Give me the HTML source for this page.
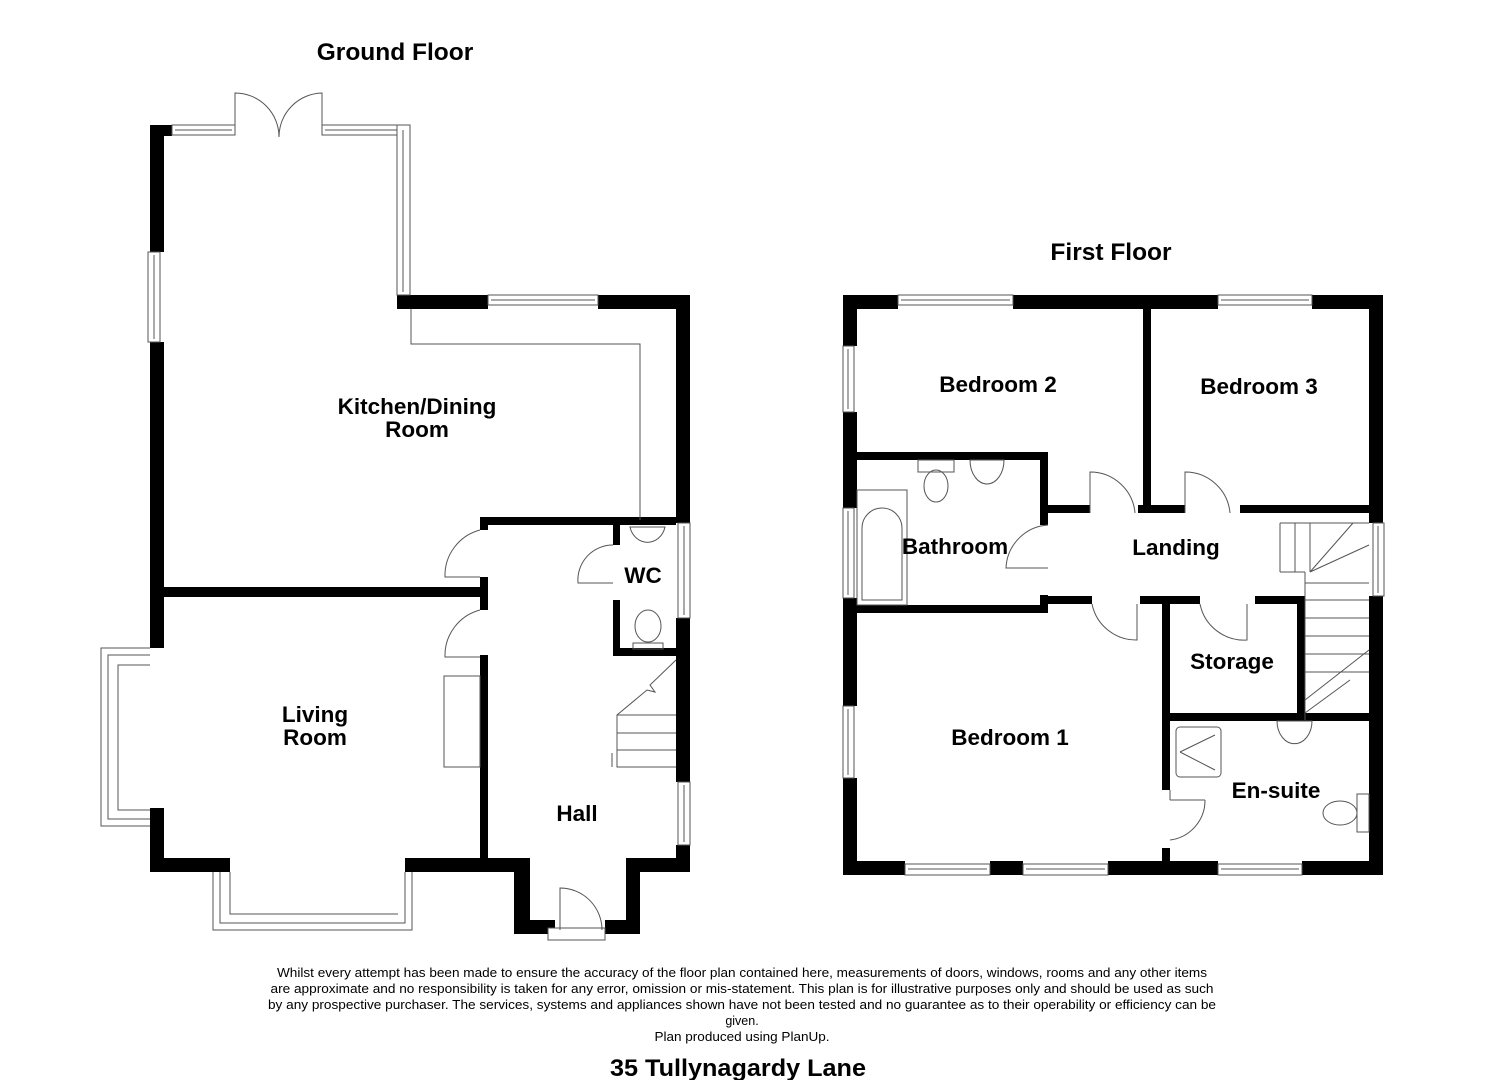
<!DOCTYPE html>
<html><head><meta charset="utf-8"><style>
html,body{margin:0;padding:0;background:#fff;}
svg{display:block}
text{font-family:"Liberation Sans",Arial,sans-serif;}
.l{font-weight:bold;font-size:22.5px;text-anchor:middle;fill:#000}
.h{font-weight:bold;font-size:24.5px;text-anchor:middle;fill:#000}
.d{font-size:12.5px;text-anchor:middle;fill:#000}
</style></head><body>
<svg width="1485" height="1080" viewBox="0 0 1485 1080" xmlns="http://www.w3.org/2000/svg">
<g fill="#000">
<rect x="150" y="125" width="14" height="127"/>
<rect x="150" y="125" width="22" height="11"/>
<rect x="150" y="342" width="14" height="306"/>
<rect x="150" y="808" width="14" height="64"/>
<rect x="150" y="858" width="80" height="14"/>
<rect x="397" y="295" width="91" height="14"/>
<rect x="598" y="295" width="92" height="14"/>
<rect x="676" y="295" width="14" height="228"/>
<rect x="676" y="618" width="14" height="164"/>
<rect x="676" y="845" width="14" height="27"/>
<rect x="405" y="858" width="125" height="14"/>
<rect x="514" y="858" width="16" height="76"/>
<rect x="514" y="920" width="41" height="14"/>
<rect x="605" y="920" width="35" height="14"/>
<rect x="626" y="858" width="14" height="76"/>
<rect x="626" y="858" width="64" height="14"/>
<rect x="480" y="517" width="196" height="8"/>
<rect x="480" y="517" width="8" height="13"/>
<rect x="480" y="577" width="8" height="33"/>
<rect x="164" y="587" width="324" height="10"/>
<rect x="480" y="655" width="8" height="205"/>
<rect x="613" y="525" width="7" height="20"/>
<rect x="613" y="600" width="7" height="56"/>
<rect x="613" y="648" width="63" height="8"/>
<rect x="843" y="295" width="55" height="14"/>
<rect x="1013" y="295" width="205" height="14"/>
<rect x="1312" y="295" width="71" height="14"/>
<rect x="843" y="295" width="14" height="51"/>
<rect x="843" y="412" width="14" height="96"/>
<rect x="843" y="598" width="14" height="108"/>
<rect x="843" y="778" width="14" height="97"/>
<rect x="843" y="861" width="62" height="14"/>
<rect x="990" y="861" width="33" height="14"/>
<rect x="1108" y="861" width="110" height="14"/>
<rect x="1302" y="861" width="81" height="14"/>
<rect x="1369" y="295" width="14" height="228"/>
<rect x="1369" y="596" width="14" height="279"/>
<rect x="1143" y="309" width="8" height="204"/>
<rect x="1151" y="505" width="34" height="8"/>
<rect x="1240" y="505" width="129" height="8"/>
<rect x="857" y="452" width="191" height="8"/>
<rect x="1040" y="452" width="8" height="73"/>
<rect x="1040" y="595" width="8" height="18"/>
<rect x="857" y="605" width="191" height="8"/>
<rect x="1040" y="505" width="50" height="8"/>
<rect x="1138" y="505" width="13" height="8"/>
<rect x="1048" y="596" width="44" height="8"/>
<rect x="1140" y="596" width="60" height="8"/>
<rect x="1255" y="596" width="50" height="8"/>
<rect x="1297" y="596" width="8" height="124"/>
<rect x="1162" y="600" width="8" height="190"/>
<rect x="1162" y="848" width="8" height="20"/>
<rect x="1162" y="713" width="207" height="8"/>
</g>
<g fill="#fff" stroke="#555" stroke-width="1">
<rect x="172" y="125" width="63" height="10"/><line x1="175" y1="130" x2="232" y2="130"/>
<rect x="322" y="125" width="85" height="10"/><line x1="325" y1="130" x2="404" y2="130"/>
<rect x="397" y="125" width="13" height="170"/><line x1="403" y1="130" x2="403" y2="292"/>
<rect x="148" y="252" width="12" height="90"/><line x1="154" y1="255" x2="154" y2="339"/>
<rect x="488" y="295" width="110" height="10"/><line x1="491" y1="300" x2="595" y2="300"/>
<rect x="678" y="523" width="12" height="95"/><line x1="684" y1="526" x2="684" y2="615"/>
<rect x="678" y="782" width="12" height="63"/><line x1="684" y1="785" x2="684" y2="842"/>
<rect x="548" y="928" width="57" height="12"/>
<rect x="898" y="295" width="115" height="10"/><line x1="901" y1="300" x2="1010" y2="300"/>
<rect x="1218" y="295" width="94" height="10"/><line x1="1221" y1="300" x2="1309" y2="300"/>
<rect x="843" y="346" width="11" height="66"/><line x1="848" y1="349" x2="848" y2="409"/>
<rect x="843" y="508" width="11" height="90"/><line x1="848" y1="511" x2="848" y2="595"/>
<rect x="843" y="706" width="11" height="72"/><line x1="848" y1="709" x2="848" y2="775"/>
<rect x="1373" y="523" width="11" height="73"/><line x1="1378" y1="526" x2="1378" y2="593"/>
<rect x="905" y="864" width="85" height="11"/><line x1="908" y1="869" x2="987" y2="869"/>
<rect x="1023" y="864" width="85" height="11"/><line x1="1026" y1="869" x2="1105" y2="869"/>
<rect x="1218" y="864" width="84" height="11"/><line x1="1221" y1="869" x2="1299" y2="869"/>
</g>
<g fill="none" stroke="#555" stroke-width="1">
<path d="M235 135 V93 A44 44 0 0 1 279 137"/>
<path d="M322 135 V93 A44 44 0 0 0 279 137"/>
<path d="M411 309 V344 H640 V520"/>
<path d="M150 648 H101 V826 H150 M150 655 H108 V819 H150 M150 665 H118 V810 H150"/>
<path d="M213 872 V930 H412 V872 M220 872 V923 H405 V872 M230 872 V914 H398"/>
<rect x="444" y="676" width="36" height="91"/>
<path d="M480 530 A47 47 0 0 0 445 577 H480"/>
<path d="M480 610 A47 47 0 0 0 445 657 H480"/>
<path d="M613 545 A35 35 0 0 0 578 583 H613"/>
<path d="M560 930 V888 A42 42 0 0 1 602 930"/>
<path d="M676 660 L650 685 L655 692 L647 690 L617 715 V767 H676 M617 715 H676 M617 733 H676 M617 750 H676 M612 753 V767"/>
<path d="M630 527 H665 A18 20 0 0 1 630 527 Z"/>
<ellipse cx="648" cy="626" rx="13" ry="16"/><rect x="633" y="643" width="30" height="6"/>
<path d="M1048 525 A45 45 0 0 0 1006 568 H1048"/>
<path d="M1090 513 V472 A45 45 0 0 1 1135 513"/>
<path d="M1185 513 V472 A45 45 0 0 1 1230 513"/>
<path d="M1092 604 A45 45 0 0 0 1137 640 V604"/>
<path d="M1200 604 A45 45 0 0 0 1247 640 V604"/>
<path d="M1170 800 V790 M1205 800 A40 40 0 0 1 1170 840 M1170 800 H1205 V800"/>
<rect x="857" y="490" width="50" height="115"/>
<path d="M862 600 V528 A20 20 0 0 1 902 528 V600 Z"/>
<rect x="918" y="460" width="36" height="12"/><ellipse cx="936" cy="486" rx="12" ry="16"/>
<path d="M970 460 H1004 A17 24 0 0 1 970 460 Z"/>
<path d="M1280 523 H1369 M1280 523 V572 M1295 523 V572 M1310 523 V572 M1310 572 L1353 523 M1310 572 L1369 545 M1280 572 H1305 M1305 572 V720 M1305 583 H1369 M1305 600 H1369 M1305 618 H1369 M1305 636 H1369 M1305 654 H1369 M1305 672 H1369 M1305 700 L1369 650 M1305 713 L1350 680"/>
<rect x="1176" y="727" width="45" height="50" rx="4"/>
<path d="M1180 752 L1215 735 M1180 752 L1215 770"/>
<path d="M1277 721 H1312 A17 22 0 0 1 1277 721 Z"/>
<ellipse cx="1340" cy="813" rx="17" ry="12"/><rect x="1357" y="794" width="12" height="38"/>
</g>
<text class="h" x="395" y="60">Ground Floor</text>
<text class="h" x="1111" y="260">First Floor</text>
<text class="l" x="417" y="414">Kitchen/Dining</text>
<text class="l" x="417" y="437">Room</text>
<text class="l" x="643" y="583">WC</text>
<text class="l" x="315" y="722">Living</text>
<text class="l" x="315" y="745">Room</text>
<text class="l" x="577" y="821">Hall</text>
<text class="l" x="998" y="392">Bedroom 2</text>
<text class="l" x="1259" y="394">Bedroom 3</text>
<text class="l" x="955" y="554">Bathroom</text>
<text class="l" x="1176" y="555">Landing</text>
<text class="l" x="1232" y="669">Storage</text>
<text class="l" x="1010" y="745">Bedroom 1</text>
<text class="l" x="1276" y="798">En-suite</text>
<text class="d" x="742" y="977" textLength="930" lengthAdjust="spacingAndGlyphs">Whilst every attempt has been made to ensure the accuracy of the floor plan contained here, measurements of doors, windows, rooms and any other items</text>
<text class="d" x="742" y="993" textLength="943" lengthAdjust="spacingAndGlyphs">are approximate and no responsibility is taken for any error, omission or mis-statement. This plan is for illustrative purposes only and should be used as such</text>
<text class="d" x="742" y="1009" textLength="948" lengthAdjust="spacingAndGlyphs">by any prospective purchaser. The services, systems and appliances shown have not been tested and no guarantee as to their operability or efficiency can be</text>
<text class="d" x="742" y="1025">given.</text>
<text class="d" x="742" y="1041" textLength="175" lengthAdjust="spacingAndGlyphs">Plan produced using PlanUp.</text>
<text class="h" x="738" y="1076" textLength="256" lengthAdjust="spacingAndGlyphs">35 Tullynagardy Lane</text>
</svg>
</body></html>
